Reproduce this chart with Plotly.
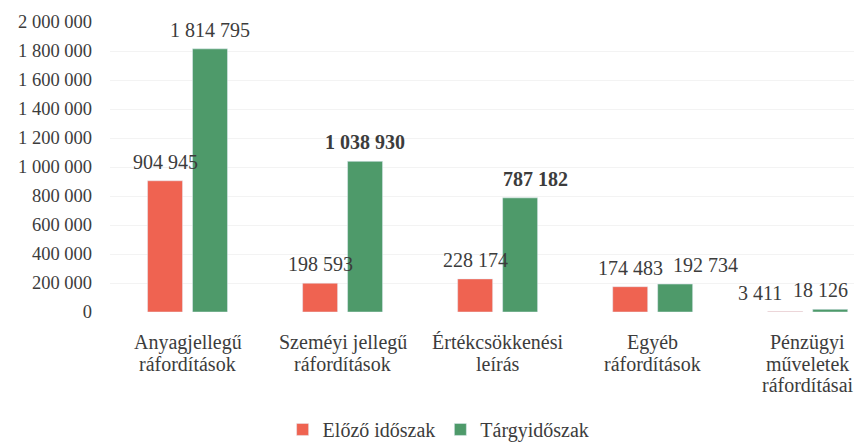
import plotly.graph_objects as go

categories = ["Anyagjellegű ráfordítások", "Szeméyi jellegű ráfordítások",
              "Értékcsökkenési leírás", "Egyéb ráfordítások",
              "Pénzügyi műveletek ráfordításai"]
category_lines = [["Anyagjellegű", "ráfordítások"], ["Szeméyi jellegű", "ráfordítások"],
                  ["Értékcsökkenési", "leírás"], ["Egyéb", "ráfordítások"],
                  ["Pénzügyi", "műveletek", "ráfordításai"]]
series_names = ["Előző időszak", "Tárgyidőszak"]
elozo = [904945, 198593, 228174, 174483, 3411]
targy = [1814795, 1038930, 787182, 192734, 18126]
tick_vals = [0, 200000, 400000, 600000, 800000, 1000000, 1200000, 1400000,
             1600000, 1800000, 2000000]

RED = "#EF6351"
GREEN = "#4E9A6A"
TXT = "#3c3c3c"
FONT = "Liberation Serif, Times New Roman, DejaVu Serif, serif"

fig = go.Figure()
fig.add_trace(go.Bar(name=series_names[0], x=categories, y=elozo, marker_color=RED))
fig.add_trace(go.Bar(name=series_names[1], x=categories, y=targy, marker_color=GREEN))

def fmt(v):
    return f"{v:,}".replace(",", " ")

# style: bold flags and horizontal nudges of value labels (px)
bold_red = [False] * 5
bold_green = [False, True, True, False, False]
nudge_red = [0, 0, 0, 0, -25]
nudge_green = [0, 0, 15, 30, -10]

ann = []
for i, c in enumerate(categories):
    for vals, sh, bolds, nudges in ((elozo, -22.5, bold_red, nudge_red),
                                    (targy, 22.5, bold_green, nudge_green)):
        t = fmt(vals[i])
        if bolds[i]:
            t = f"<b>{t}</b>"
        ann.append(dict(x=c, y=vals[i], xref="x", yref="y", text=t, showarrow=False,
                        yanchor="bottom", yshift=6, xshift=sh + nudges[i],
                        font=dict(family=FONT, size=20, color=TXT)))
    # category label, line by line (tight line spacing)
    for j, line in enumerate(category_lines[i]):
        ann.append(dict(x=c, y=0, xref="x", yref="paper", text=line, showarrow=False,
                        yanchor="middle", yshift=-30 - 21.5 * j,
                        font=dict(family=FONT, size=20, color=TXT)))

fig.update_layout(
    width=854, height=436,
    margin=dict(l=102, r=0, t=14, b=132, autoexpand=False),
    paper_bgcolor="white", plot_bgcolor="white",
    separators=", ",
    barmode="group", bargap=0.42, bargroupgap=0.222,
    font=dict(family=FONT, size=20, color=TXT),
    annotations=ann,
    legend=dict(orientation="h", x=0.437, xanchor="center", y=-0.405, yanchor="middle",
                font=dict(family=FONT, size=20, color=TXT), itemwidth=30,
                tracegroupgap=0),
    showlegend=True,
)
fig.update_xaxes(range=[-0.5, 4.35], showline=False, ticks="", showticklabels=False)
fig.update_yaxes(range=[0, 2000000], tickvals=tick_vals, tickformat=",d",
                 showgrid=True, gridcolor="#f3f3f3", zeroline=False, showline=False,
                 ticklabelstandoff=17,
                 tickfont=dict(family=FONT, size=18.5, color=TXT))

fig.write_html("out.html")
